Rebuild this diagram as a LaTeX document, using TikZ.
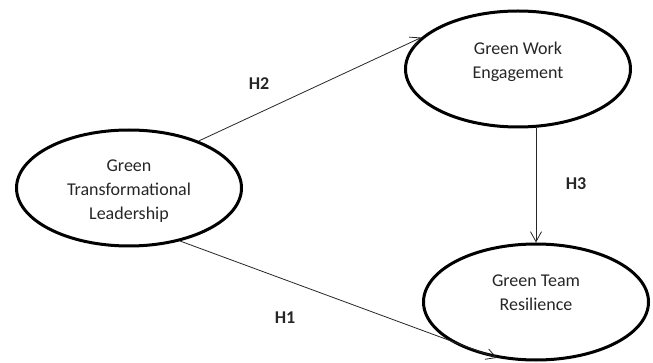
\documentclass[tikz,border=0pt]{standalone}
\usepackage{fontspec}
\setmainfont{Carlito}
\usetikzlibrary{shapes.geometric,arrows.meta}

\begin{document}
\begin{tikzpicture}[x=1pt,y=-1pt,
        construct/.style={draw=black,ellipse,line width=3pt,minimum width=225pt,minimum height=116pt,inner sep=0pt,align=center,font=\fontsize{18}{24}\selectfont,text=black!85},
        link/.style={draw=black!85,line width=0.8pt,-{Straight Barb[length=10pt,width=11pt]}},
        hyp/.style={font=\fontsize{18}{22}\selectfont\bfseries,text=black!85}]
        \useasboundingbox (0,0) rectangle (653,363);

        % Constructs
        \node[construct,text height=64pt,text depth=0pt] (gtl) at (129,188) {Green\\Transformational\\Leadership};
        \node[construct,text depth=18pt] (gwe) at (518,69) {Green Work\\Engagement};
        \node[construct,text depth=18pt] (gtr) at (536,302) {Green Team\\Resilience};

        % Hypotheses
        \draw[link] (gtl.34) -- (gwe.162);
        \draw[link] (gtr.north |- gwe.south) -- (gtr.north);
        \draw[link] (gtl.314) -- (gtr.235);
        \node[hyp] (h2) at (259,84) {H2};
        \node[hyp] (h3) at (576,184) {H3};
        \node[hyp] (h1) at (285,318) {H1};
    \end{tikzpicture}
\end{document}
